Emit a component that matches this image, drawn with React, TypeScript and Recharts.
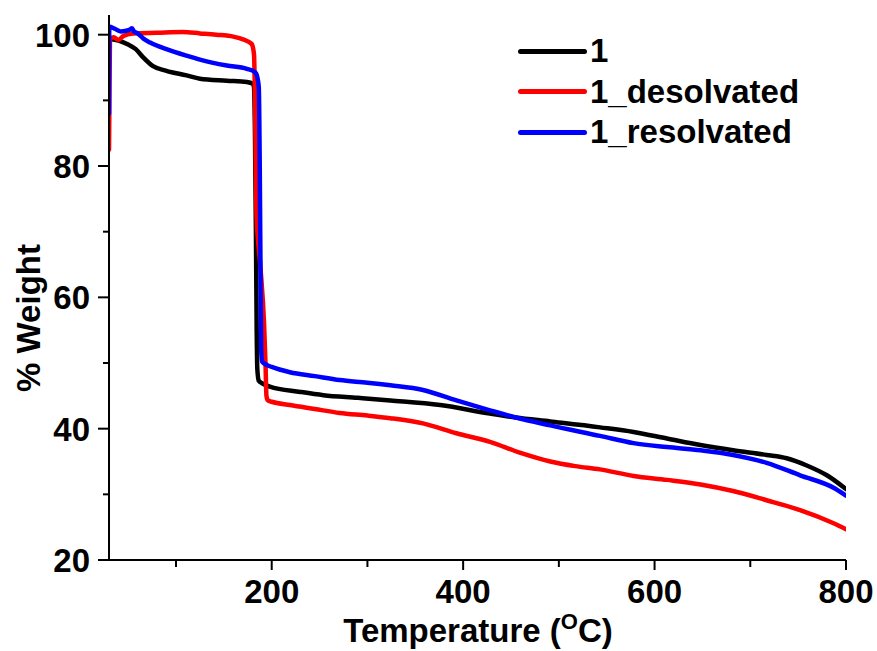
import React from "react";
import {
  LineChart,
  Line,
  XAxis,
  YAxis,
} from "recharts";

// temperature (°C) / weight (%)
const tempPristine = [
  30, 40, 50, 58, 66, 76, 90, 111, 125, 153, 174, 180.5, 181.5, 182.5, 183.5,
  184.3, 185, 186.5, 190, 198, 230, 254, 290, 324, 376, 428, 455, 491, 543,
  578, 613, 648, 682, 717, 738, 759, 780, 800,
];
const weightPristine = [
  99.4, 99.1, 98.5, 97.8, 96.5, 95.2, 94.5, 93.8, 93.3, 93.0, 92.8, 92.5, 92,
  85, 70, 55, 49, 47.3, 46.9, 46.4, 45.6, 45.1, 44.7, 44.3, 43.6, 42.3, 41.7,
  41.1, 40.2, 39.5, 38.5, 37.5, 36.7, 36.0, 35.5, 34.4, 32.9, 30.8,
];

const tempDesolv = [
  30, 30.3, 31, 35, 40, 45, 55, 80, 107, 125, 142, 160, 170, 179, 181.5, 183,
  184, 188, 192, 193.5, 194.5, 196, 200, 219, 245, 271, 300, 324, 358, 393,
  428, 460, 491, 517, 543, 578, 613, 648, 682, 717, 752, 787, 800,
];
const weightDesolv = [
  82.5, 87.5, 99.3, 99.6, 99.2, 99.8, 100.2, 100.3, 100.4, 100.2, 100.0, 99.7,
  99.3, 98.6, 97, 85, 73, 65, 56, 50, 45, 44.3, 44.1, 43.6, 43.0, 42.4, 42.0,
  41.6, 40.8, 39.3, 38.0, 36.3, 35.0, 34.3, 33.8, 32.8, 32.2, 31.5, 30.5,
  29.1, 27.6, 25.6, 24.7,
];

const tempResolv = [
  30, 30.3, 36, 42, 48, 52, 54, 56, 60, 66, 73, 90, 111, 125, 153, 174, 182.5,
  184, 186.5, 187.5, 188.5, 189, 190, 195, 200, 219, 245, 271, 300, 324, 358,
  393, 428, 455, 491, 543, 578, 613, 648, 682, 717, 752, 787, 800,
];
const weightResolv = [
  88, 101.2, 100.9, 100.5, 100.6, 100.8, 101.0, 100.5, 100.2, 99.4, 98.8,
  97.8, 96.8, 96.2, 95.3, 94.8, 94.3, 94.0, 92, 80, 60, 52, 50.2, 49.7, 49.4,
  48.6, 48.0, 47.4, 47.0, 46.6, 45.9, 44.3, 42.8, 41.7, 40.5, 38.9, 37.8,
  37.2, 36.7, 36.0, 34.8, 32.9, 31.0, 29.8,
];

const xTicks = [100, 200, 300, 400, 500, 600, 700, 800];
const xLabels = [200, 400, 600, 800];
const yTicks = [20, 30, 40, 50, 60, 70, 80, 90, 100];
const yLabels = [20, 40, 60, 80, 100];

const seriesNames = ["1", "1_desolvated", "1_resolvated"];
const seriesColors = ["#000000", "#ff0000", "#0000ff"];

const zip = (t: number[], w: number[]) => t.map((v, i) => ({ t: v, w: w[i] }));

const series = [
  zip(tempPristine, weightPristine),
  zip(tempDesolv, weightDesolv),
  zip(tempResolv, weightResolv),
];

const FONT = "'Liberation Sans', Arial, sans-serif";
const FS = 33;

function XTick(props: any) {
  const { x, y, payload } = props;
  const axisY = y - 18;
  const major = xLabels.includes(payload.value);
  return (
    <g>
      <line x1={x} x2={x} y1={axisY} y2={axisY + (major ? 10 : 7)} stroke="#000" strokeWidth={2} />
      {major && (
        <text x={x} y={axisY + 43} textAnchor="middle" fontFamily={FONT} fontWeight="bold" fontSize={FS} fill="#000">
          {payload.value}
        </text>
      )}
    </g>
  );
}

function YTick(props: any) {
  const { x, y, payload } = props;
  const axisX = x + 18;
  const major = yLabels.includes(payload.value);
  return (
    <g>
      <line x1={axisX} x2={axisX - (major ? 11 : 6)} y1={y} y2={y} stroke="#000" strokeWidth={2} />
      {major && (
        <text x={axisX - 19} y={y + 12} textAnchor="end" fontFamily={FONT} fontWeight="bold" fontSize={FS} fill="#000">
          {payload.value}
        </text>
      )}
    </g>
  );
}

function LegendBox() {
  return (
    <div
      style={{
        position: "absolute",
        left: 518,
        top: 31,
        fontFamily: FONT,
        fontWeight: "bold",
        fontSize: FS,
        color: "#000",
      }}
    >
      {seriesNames.map((n, i) => (
        <div key={n} style={{ display: "flex", alignItems: "center", height: 40.5 }}>
          <div
            style={{
              width: 69,
              height: 5,
              borderRadius: 3,
              background: seriesColors[i],
              marginRight: 3,
            }}
          />
          <span style={{ lineHeight: "40px" }}>{n}</span>
        </div>
      ))}
    </div>
  );
}

export default function App() {
  return (
    <div style={{ position: "relative", width: 877, height: 651, background: "#fff" }}>
      <style>{"body{margin:0;}"}</style>
      <LineChart
        width={877}
        height={651}
        margin={{ top: 15, right: 31, left: 34, bottom: 31 }}
      >
        <XAxis
          dataKey="t"
          type="number"
          domain={[30, 800]}
          ticks={xTicks}
          allowDataOverflow
          height={60}
          tickSize={8}
          tickMargin={10}
          tickLine={false}
          axisLine={{ stroke: "#000", strokeWidth: 2 }}
          tick={<XTick />}
          label={{
            content: () => (
              <text x={478} y={642} textAnchor="middle" fontFamily={FONT} fontWeight="bold" fontSize={FS} fill="#000">
                Temperature (
                <tspan fontSize={22} dy={-13}>O</tspan>
                <tspan dy={13}>C)</tspan>
              </text>
            ),
          }}
        />
        <XAxis
          xAxisId="top"
          orientation="top"
          dataKey="t"
          type="number"
          domain={[30, 800]}
          height={0}
          tick={false}
          tickLine={false}
          axisLine={{ stroke: "#000", strokeWidth: 2 }}
        />
        <YAxis
          type="number"
          domain={[20, 103]}
          ticks={yTicks}
          allowDataOverflow
          width={75}
          tickSize={8}
          tickMargin={10}
          tickLine={false}
          axisLine={{ stroke: "#000", strokeWidth: 2 }}
          tick={<YTick />}
          label={{
            content: () => (
              <text
                x={0}
                y={0}
                transform="translate(40,318) rotate(-90)"
                textAnchor="middle"
                fontFamily={FONT}
                fontWeight="bold"
                fontSize={FS}
                fill="#000"
              >
                % Weight
              </text>
            ),
          }}
        />
        <YAxis
          yAxisId="right"
          orientation="right"
          type="number"
          domain={[20, 103]}
          width={0}
          tick={false}
          tickLine={false}
          axisLine={{ stroke: "#000", strokeWidth: 2 }}
        />
        {series.map((d, i) => (
          <Line
            key={seriesNames[i]}
            data={d}
            dataKey="w"
            name={seriesNames[i]}
            type="monotoneX"
            stroke={seriesColors[i]}
            strokeWidth={4.5}
            strokeLinejoin="round"
            strokeLinecap="round"
            dot={false}
            activeDot={false}
            isAnimationActive={false}
          />
        ))}
      </LineChart>
      <LegendBox />
    </div>
  );
}
